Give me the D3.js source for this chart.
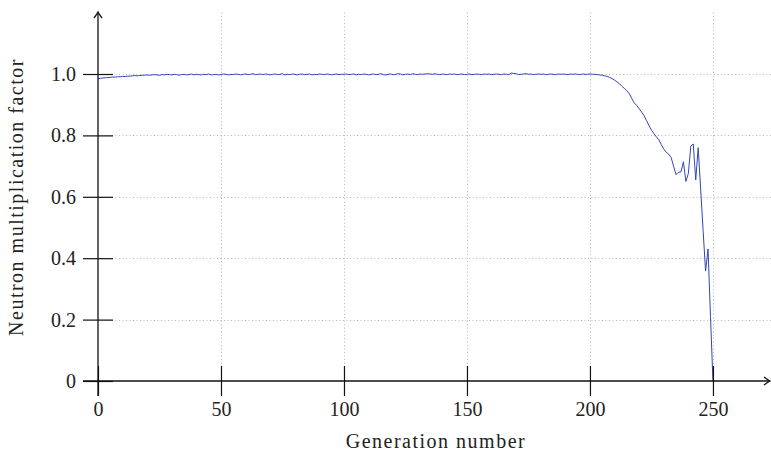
<!DOCTYPE html>
<html>
<head>
<meta charset="utf-8">
<script src="https://cdn.jsdelivr.net/npm/d3@7"></script>
<style>
  body { margin: 0; background: #fff; }
  svg { display: block; }
  .tick text { font-family: "Liberation Serif", "DejaVu Serif", serif; font-size: 20px; fill: #222; }
  .lbl { font-family: "Liberation Serif", "DejaVu Serif", serif; font-size: 20px; fill: #222; letter-spacing: 1.5px; }
</style>
</head>
<body>
<svg id="chart" width="771" height="452"></svg>
<script>
// k-effective per generation (generation 0..250)
var kValues = [
  0.984, 0.986, 0.987, 0.988, 0.988, 0.989, 0.990, 0.990, 0.991, 0.991,
  0.992, 0.992, 0.993, 0.993, 0.994, 0.995, 0.994, 0.995, 0.996, 0.996,
  0.997, 0.996, 0.997, 0.998, 0.997, 0.996, 0.998, 0.997, 0.999, 0.998,
  0.997, 0.999, 0.998, 0.996, 0.998, 0.999, 0.997, 0.998, 1.000, 0.997,
  0.999, 0.998, 0.997, 0.999, 0.998, 1.000, 0.997, 0.998, 0.999, 0.997,
  0.998, 1.000, 0.999, 0.997, 0.999, 0.998, 1.000, 0.999, 0.997, 0.999,
  1.000, 0.998, 0.999, 1.001, 0.998, 0.999, 1.000, 0.998, 1.000, 0.999,
  0.997, 0.999, 1.000, 0.998, 0.999, 1.001, 0.997, 0.999, 0.998, 1.000,
  0.999, 0.997, 0.999, 1.000, 0.998, 0.999, 1.000, 0.997, 0.999, 0.998,
  1.000, 0.999, 0.998, 1.000, 0.999, 0.997, 0.999, 1.000, 0.998, 0.999,
  0.999, 1.000, 0.998, 0.999, 1.000, 0.997, 0.999, 0.998, 1.000, 0.999,
  0.997, 0.999, 1.000, 0.998, 0.999, 1.001, 0.998, 0.997, 0.999, 1.000,
  0.998, 0.999, 1.001, 1.000, 0.997, 0.999, 1.000, 0.998, 1.001, 0.999,
  0.998, 1.000, 0.999, 1.000, 1.001, 1.000, 0.999, 1.001, 0.999, 0.998,
  1.000, 0.999, 0.998, 1.000, 0.999, 1.000, 0.998, 0.999, 1.000, 0.998,
  0.999, 1.000, 0.998, 0.999, 1.000, 0.999, 0.998, 1.000, 0.999, 1.000,
  0.998, 0.999, 1.000, 0.999, 0.998, 1.000, 0.999, 0.998, 1.003, 1.002,
  1.001, 0.998, 0.999, 1.000, 1.001, 0.999, 1.000, 0.998, 0.999, 1.000,
  0.999, 1.000, 0.998, 0.999, 1.000, 0.999, 0.998, 1.000, 0.999, 1.000,
  0.999, 0.998, 1.000, 0.999, 1.000, 0.999, 0.998, 1.000, 0.999, 0.999,
  1.000, 0.999, 0.999, 0.998, 0.997, 0.996, 0.994, 0.992, 0.989, 0.985,
  0.980, 0.974, 0.968, 0.960, 0.953, 0.945, 0.936, 0.920, 0.906, 0.898,
  0.887, 0.876, 0.864, 0.848, 0.832, 0.817, 0.806, 0.795, 0.786, 0.770,
  0.756, 0.745, 0.739, 0.728, 0.700, 0.672, 0.680, 0.681, 0.714, 0.650,
  0.676, 0.765, 0.772, 0.655, 0.760, 0.625, 0.490, 0.358, 0.430, 0.210,
  0.000
];
var xTicks = [0, 50, 100, 150, 200, 250];
var yTicks = [0, 0.2, 0.4, 0.6, 0.8, 1.0];
var yTickLabels = ["0", "0.2", "0.4", "0.6", "0.8", "1.0"];

var svg = d3.select("#chart");
var mLeft = 98, mBottom = 381, mTop = 12.6, mRight = 771;

var x = d3.scaleLinear().domain([0, 273.6]).range([mLeft, mRight]);
var y = d3.scaleLinear().domain([0, 1.2]).range([mBottom, mTop]);

// dotted grid
var grid = svg.append("g")
  .attr("stroke", "#b4b4b4")
  .attr("stroke-width", 1)
  .attr("stroke-dasharray", "1,2.5");
grid.selectAll(".gy")
  .data(yTicks.filter(d => d > 0))
  .enter().append("line")
  .attr("x1", mLeft).attr("x2", mRight)
  .attr("y1", d => Math.round(y(d)) + 0.5)
  .attr("y2", d => Math.round(y(d)) + 0.5);
grid.selectAll(".gx")
  .data(xTicks.filter(d => d > 0))
  .enter().append("line")
  .attr("y1", mTop).attr("y2", mBottom)
  .attr("x1", d => Math.round(x(d)) + 0.5)
  .attr("x2", d => Math.round(x(d)) + 0.5);

// data line
var line = d3.line()
  .x((d, i) => x(i))
  .y(d => y(d));
svg.append("path")
  .datum(kValues)
  .attr("fill", "none")
  .attr("stroke", "#3246b4")
  .attr("stroke-width", 1)
  .attr("stroke-linejoin", "round")
  .attr("d", line);

// axes: ticks both sides of the axis line
var yAxis = svg.append("g")
  .attr("transform", `translate(${mLeft + 15},0)`)
  .call(d3.axisLeft(y).tickValues(yTicks).tickSize(30).tickPadding(7)
    .tickFormat((d, i) => yTickLabels[i]));
yAxis.select(".domain").remove();

var xAxis = svg.append("g")
  .attr("transform", `translate(0,${mBottom - 15})`)
  .call(d3.axisBottom(x).tickValues(xTicks).tickSize(30).tickPadding(6));
xAxis.select(".domain").remove();

svg.selectAll(".tick line").attr("stroke", "#111").attr("stroke-width", 1.2);

// axis lines with arrow heads
var axes = svg.append("g").attr("stroke", "#111").attr("fill", "none").attr("stroke-width", 1.3);
axes.append("line").attr("x1", mLeft).attr("x2", mLeft).attr("y1", mBottom + 15).attr("y2", 12);
axes.append("line").attr("x1", mLeft - 15).attr("x2", 770).attr("y1", mBottom).attr("y2", mBottom);
axes.append("path").attr("d", `M${mLeft - 4},18 Q${mLeft - 1},14 ${mLeft},12 Q${mLeft + 1},14 ${mLeft + 4},18`);
axes.append("path").attr("d", `M764,${mBottom - 4} Q768,${mBottom - 1} 770,${mBottom} Q768,${mBottom + 1} 764,${mBottom + 4}`);

// labels
svg.append("text")
  .attr("class", "lbl")
  .attr("text-anchor", "middle")
  .attr("x", 436).attr("y", 448)
  .text("Generation number");
svg.append("text")
  .attr("class", "lbl")
  .attr("text-anchor", "middle")
  .attr("transform", "translate(23,197) rotate(-90)")
  .text("Neutron multiplication factor");
</script>
</body>
</html>
